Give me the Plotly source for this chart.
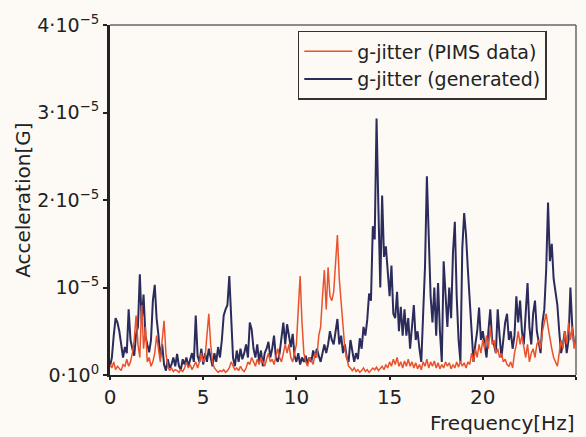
import numpy as np
import plotly.graph_objects as go

# Frequency grid [Hz]
freq = [round(i * 0.1, 1) for i in range(251)]

# g-jitter (generated), units of 1e-6 G
generated = [
    1.0, 2.0, 4.5, 6.5, 6.0, 5.0, 3.5, 2.0, 3.2, 2.5,
    7.5, 4.0, 3.0, 2.2, 4.7, 5.5, 11.5, 6.0, 9.2, 4.5,
    3.5, 2.6, 4.0, 8.5, 10.3, 6.5, 4.5, 2.0, 3.5, 1.2,
    0.5, 1.8, 0.8, 1.2, 2.0, 1.0, 2.4, 1.0, 0.6, 1.8,
    1.2, 2.0, 1.0, 1.8, 2.5, 1.5, 6.8, 2.2, 1.5, 3.0,
    1.2, 2.5, 1.5, 3.0, 2.0, 1.0, 2.5, 1.5, 3.2, 2.0,
    4.0, 6.8, 7.5, 8.0, 11.3, 6.5, 2.0, 1.0, 2.8, 1.5,
    3.0, 1.8, 2.5, 3.5, 2.0, 6.0, 5.2, 3.0, 2.0, 3.5,
    1.5, 2.8, 1.0, 2.5, 3.0, 3.8, 2.0, 3.0, 4.5, 2.0,
    1.5, 2.5, 4.0, 6.0, 3.5, 5.8, 4.5, 3.2, 4.7, 2.2,
    1.5, 2.5, 1.2, 2.0, 1.5, 2.2, 1.3, 2.0, 1.5, 2.8,
    2.0, 3.0, 2.2, 1.5, 2.5, 3.5, 2.5, 3.5, 5.0, 4.0,
    3.5, 5.0, 6.4, 3.5, 4.5, 2.5, 3.5, 2.0, 1.5, 4.0,
    2.5, 1.5, 2.5, 1.8, 4.2, 3.0, 5.5, 4.5, 6.3, 9.3,
    8.5, 17.0, 15.5, 29.3, 19.0, 10.0, 20.5, 13.5, 14.7, 12.0,
    9.0, 12.5, 7.0, 6.5, 9.5, 5.0, 7.8, 4.5, 7.5, 4.5,
    6.5, 3.0, 5.5, 8.0, 4.0, 5.0, 3.0, 1.5, 7.0, 12.4,
    22.7, 16.0, 9.0, 6.0, 10.0, 4.5, 10.5, 5.0, 1.5, 13.0,
    8.5, 5.5, 10.0, 6.5, 14.0, 17.5, 9.0, 4.0, 1.5, 14.5,
    18.5, 16.0, 12.0, 8.0, 4.0, 1.5, 3.5, 5.0, 7.7, 4.0,
    5.0, 3.5, 2.0, 5.0, 7.5, 4.0, 3.5, 2.5, 7.5, 4.5,
    2.0, 4.0, 6.0, 7.0, 4.0, 5.0, 3.0, 4.5, 9.0, 6.0,
    8.5, 5.0, 3.5, 7.0, 10.5, 5.5, 3.5, 7.0, 8.5, 5.0,
    3.5, 2.5, 6.0, 7.5, 12.0, 19.7, 13.0, 15.0, 11.0, 9.5,
    8.0, 5.0, 2.5, 3.5, 5.0, 2.5, 4.0, 10.0, 5.5, 3.5,
    4.0,
]

# g-jitter (PIMS data), units of 1e-6 G
pims = [
    1.2, 0.8, 1.5, 0.6, 1.0, 0.8, 0.5, 1.2, 1.0, 1.8,
    1.0, 1.5, 2.5, 4.0, 6.8, 3.5, 2.0, 8.0, 3.0, 5.5,
    1.5, 2.0, 1.0, 1.5, 2.5, 4.5, 3.0, 1.5, 4.0, 6.2,
    2.5, 1.0, 0.5, 0.8, 0.4, 0.6, 0.5, 0.3, 0.6, 0.4,
    0.8, 1.5, 0.8, 1.2, 0.6, 1.0, 1.5, 0.8, 1.5, 2.5,
    1.5, 2.0, 4.5, 7.0, 3.5, 1.5, 0.8, 0.5, 0.3, 0.5,
    0.4, 0.6, 0.3, 0.5, 0.8, 1.5, 1.0, 0.6, 0.8, 0.5,
    1.0, 0.6, 0.4, 0.8, 1.5, 1.2, 2.0, 1.5, 1.0, 1.8,
    1.2, 2.0, 1.5, 1.0, 1.8, 2.5, 1.5, 1.8, 1.2, 2.0,
    3.0, 2.0, 1.5, 2.5, 3.5, 2.5, 3.5, 2.0, 1.5, 2.5,
    3.5, 7.5, 11.3, 6.0, 2.5, 1.5, 1.0, 2.0, 1.5, 1.2,
    2.5, 2.0, 4.5, 5.5, 9.0, 12.0, 7.5, 12.3, 9.0, 8.5,
    9.5, 12.5, 16.0, 11.0, 8.5, 5.5, 3.0, 2.0, 1.0, 0.8,
    0.5, 0.8, 0.4, 0.6, 0.3, 0.5, 0.8, 0.4, 0.6, 0.3,
    0.5, 0.8, 0.6, 0.9, 0.5, 0.8, 1.0, 0.6, 1.2, 0.8,
    1.5, 1.0, 1.8, 1.2, 2.0, 1.0, 1.5, 0.8, 1.6, 1.0,
    1.8, 1.0, 1.5, 0.8, 1.4, 0.7, 1.2, 0.6, 1.5, 1.0,
    1.8, 0.8, 1.5, 1.0, 1.6, 0.8, 1.4, 0.7, 1.2, 0.8,
    1.5, 1.0, 1.4, 0.7, 1.2, 0.8, 1.5, 0.9, 1.6, 1.0,
    1.4, 0.8, 1.5, 1.2, 2.5, 1.5, 3.0, 2.0, 3.5, 2.5,
    4.0, 3.0, 4.5, 3.0, 5.5, 3.5, 4.0, 2.5, 3.0, 2.0,
    2.5, 1.5, 1.8, 1.2, 1.0, 1.5, 0.8, 2.5, 3.5, 5.0,
    3.5, 4.5, 3.0, 2.0, 3.5, 1.5, 2.5, 3.0, 2.0, 3.5,
    4.0, 3.0, 5.0, 6.0, 7.0, 5.5, 4.0, 3.0, 2.0, 1.5,
    1.0, 2.5, 4.0, 3.0, 5.0, 3.5, 6.0, 4.0, 5.5, 3.0,
    4.5,
]

SCALE = 1e-6
y_tickvals = [0, 1e-5, 2e-5, 3e-5, 4e-5]
y_ticktext = ["0·10<sup>0</sup>", "10<sup>−5</sup>", "2·10<sup>−5</sup>",
              "3·10<sup>−5</sup>", "4·10<sup>−5</sup>"]
x_tickvals = [0, 5, 10, 15, 20, 25]

FONT = "DejaVu Sans"
BG = "#fdfaf5"
NAVY = "#2b2b5c"
ORANGE = "#e9522c"

fig = go.Figure()
fig.add_trace(go.Scatter(
    x=freq, y=[v * SCALE for v in generated], mode="lines",
    name="g-jitter (generated)", line=dict(color=NAVY, width=2),
    legendrank=2,
))
fig.add_trace(go.Scatter(
    x=freq, y=[v * SCALE for v in pims], mode="lines",
    name="g-jitter (PIMS data)", line=dict(color=ORANGE, width=1.5),
    legendrank=1,
))

fig.update_layout(
    width=586, height=437,
    margin=dict(l=110, r=10, t=25, b=62),
    paper_bgcolor=BG, plot_bgcolor=BG,
    font=dict(family=FONT, size=19, color="#222"),
    showlegend=True,
    legend=dict(
        x=0.403, y=0.983, xanchor="left", yanchor="top",
        bgcolor=BG, bordercolor="#333", borderwidth=1.5,
        font=dict(family=FONT, size=19, color="#222"),
        tracegroupgap=0, itemwidth=48,
        entrywidth=263, entrywidthmode="pixels",
    ),
    xaxis=dict(
        range=[0, 25], tickvals=x_tickvals, showgrid=False, zeroline=False,
        showline=True, linecolor="#222", linewidth=2,
        ticks="outside", ticklen=3, tickcolor="#222", tickwidth=1.5,
        tickfont=dict(family=FONT, size=20, color="#222"),
    ),
    yaxis=dict(
        range=[0, 4e-5], tickvals=y_tickvals, ticktext=y_ticktext,
        showgrid=False, zeroline=False,
        showline=True, linecolor="#222", linewidth=3,
        ticks="outside", ticklen=4, tickcolor="#222", tickwidth=1.5,
        tickfont=dict(family=FONT, size=19, color="#222"),
    ),
    shapes=[
        dict(type="line", xref="paper", yref="paper", x0=0, x1=1, y0=1, y1=1,
             line=dict(color="#666", width=1.5)),
        dict(type="line", xref="paper", yref="paper", x0=1, x1=1, y0=0, y1=1,
             line=dict(color="#666", width=1.5)),
    ],
    annotations=[
        dict(text="Frequency[Hz]", xref="paper", yref="paper", x=1.0, y=-0.137,
             xanchor="right", yanchor="middle", showarrow=False,
             font=dict(family=FONT, size=20, color="#222")),
        dict(text="Acceleration[G]", xref="paper", yref="paper", x=-0.187, y=0.50,
             xanchor="center", yanchor="middle", textangle=-90, showarrow=False,
             font=dict(family=FONT, size=20, color="#222")),
    ],
)

fig.write_html("out.html")
